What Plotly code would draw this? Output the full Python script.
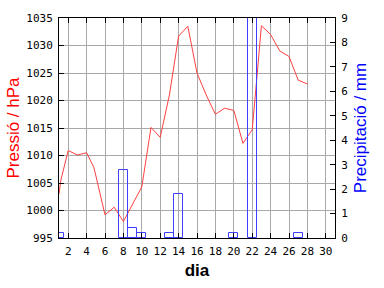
import plotly.graph_objects as go

pres_day = [1, 1.2, 2, 3, 4, 4.8, 6, 7, 8, 10, 11, 12, 13, 14, 15, 16, 17, 18, 19, 20,
            21, 22, 22.5, 23, 24, 25, 26, 27, 28]
pres_val = [1003.0, 1005.5, 1010.9, 1010.1, 1010.5, 1007.8, 999.2, 1000.6, 998.0, 1004.3,
            1015.1, 1013.3, 1021.0, 1031.7, 1033.5, 1025.0, 1021.0, 1017.5, 1018.6, 1018.2,
            1012.2, 1014.7, 1024.0, 1033.6, 1032.0, 1029.0, 1028.0, 1023.7, 1023.0]

prec_day = [1, 8, 9, 10, 13, 14, 20, 22, 27]
prec_val = [0.2, 2.8, 0.4, 0.2, 0.2, 1.8, 0.2, 11.0, 0.2]

x_ticks = list(range(2, 31, 2))

RED = "#ff4040"
BLUE = "#4040ff"
GRID = "#a8a8a8"
TICKFONT = dict(family="DejaVu Sans Mono", size=11, color="black")

fig = go.Figure()
fig.add_trace(go.Scatter(x=pres_day, y=pres_val, mode="lines",
                         line=dict(color=RED, width=1), yaxis="y", showlegend=False))
fig.add_trace(go.Bar(x=prec_day, y=prec_val, width=0.98, yaxis="y2",
                     marker=dict(color="rgba(0,0,0,0)", line=dict(color=BLUE, width=1)),
                     showlegend=False))

fig.update_layout(
    width=384, height=288,
    margin=dict(l=49, r=49, t=14, b=45),
    paper_bgcolor="white", plot_bgcolor="white",
    xaxis=dict(range=[1, 31], tickvals=x_ticks, ticktext=[str(v) for v in x_ticks],
               ticks="inside", ticklen=5, tickcolor="black", mirror="ticks",
               showline=True, linecolor="black", linewidth=1,
               showgrid=True, gridcolor=GRID, gridwidth=1, zeroline=False,
               tickfont=TICKFONT, ticklabelstandoff=3,
               title=dict(text="<b>dia</b>", font=dict(family="Liberation Sans", size=17, color="black"),
                          standoff=6)),
    yaxis=dict(range=[995, 1035], dtick=5, tick0=995,
               ticks="inside", ticklen=5, tickcolor="black",
               showline=True, linecolor="black", linewidth=1,
               showgrid=True, gridcolor=GRID, gridwidth=1, zeroline=False,
               tickfont=TICKFONT, ticklabelstandoff=3,
               title=dict(text="Pressió / hPa", font=dict(family="Liberation Sans", size=17, color="red"),
                          standoff=2)),
    yaxis2=dict(range=[0, 9], dtick=1, tick0=0, overlaying="y", side="right",
                ticks="inside", ticklen=5, tickcolor="black",
                showline=True, linecolor="black", linewidth=1,
                showgrid=False, zeroline=False,
                tickfont=TICKFONT, ticklabelstandoff=3,
                title=dict(text="Precipitació / mm", font=dict(family="Liberation Sans", size=17, color="blue"),
                           standoff=6)),
    bargap=0,
)

fig.write_html("out.html")
